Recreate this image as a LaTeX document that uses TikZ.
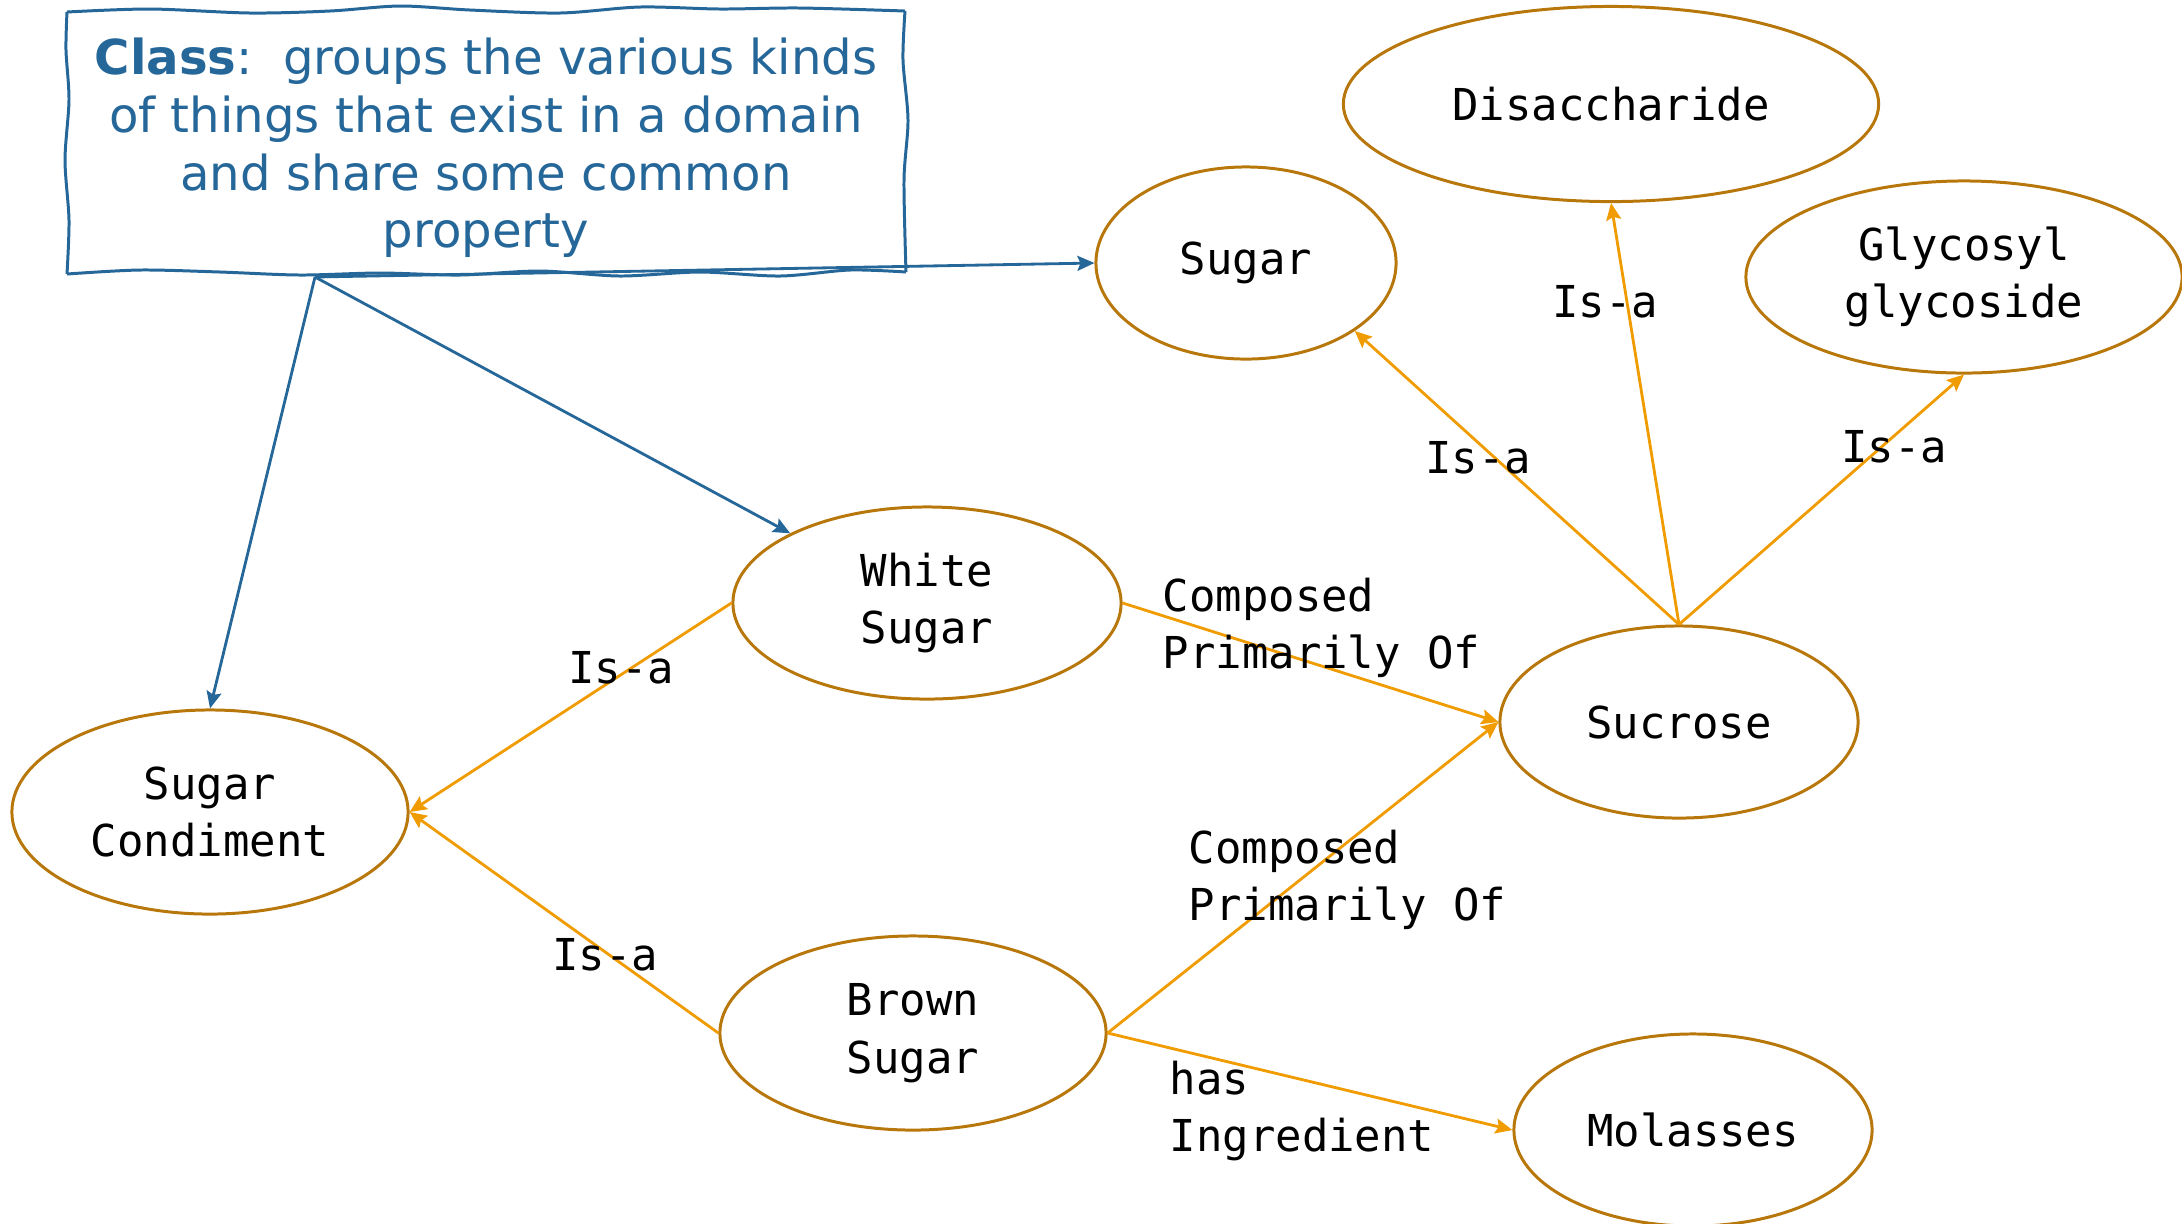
\documentclass[tikz,border=0pt]{standalone}
\usepackage{fontspec}
\setmainfont{DejaVu Sans}
\newfontfamily\monofont{DejaVu Sans Mono}
\usetikzlibrary{arrows.meta,shapes.geometric}
\definecolor{noteblue}{RGB}{38,103,153}
\definecolor{edgeorange}{RGB}{240,155,0}
\definecolor{ringbrown}{RGB}{184,119,10}
\begin{document}
\begin{tikzpicture}[x=0.01cm,y=-0.01cm,
  concept/.style={ellipse, draw=ringbrown, line width=0.85pt, inner sep=0pt,
    align=center, font=\monofont\fontsize{12.5}{16.4}\selectfont},
  reltag/.style={inner sep=0pt, font=\monofont\fontsize{12.5}{16.4}\selectfont},
  rel/.style={draw=edgeorange, line width=0.8pt,
    -{Stealth[length=0.17cm,width=0.15cm,inset=0.03cm]}},
  classlink/.style={draw=noteblue, line width=0.8pt,
    -{Stealth[length=0.17cm,width=0.15cm,inset=0.03cm]}},
  sketch/.style={draw=noteblue, line width=0.85pt}]
\useasboundingbox (0,0) rectangle (2182,1223);
\clip (0,0) rectangle (2182,1223);

% hand-drawn note box
\draw[sketch] plot[smooth] coordinates {(67,12) (150,9) (250,13) (330,11) (400,6) (470,10) (560,13) (640,7) (720,9) (800,8) (905,11)};
\draw[sketch] plot[smooth] coordinates {(905,11) (903,60) (908,120) (904,180) (906,272)};
\draw[sketch] plot[smooth] coordinates {(906,272) (850,270) (780,276) (700,272) (620,276) (540,271) (460,275) (380,273) (300,275) (220,272) (140,270) (67,274)};
\draw[sketch] plot[smooth] coordinates {(67,274) (69,220) (65,160) (69,100) (66,50) (67,12)};
\node[text=noteblue, align=center, inner sep=0pt,
      font=\fontsize{13.7}{16.4}\selectfont] (note) at (486,148)
  {\textbf{Class}:\ \ groups the various kinds\\of things that exist in a domain\\and share some common\\property};
\coordinate (hub) at (315,277);

% concepts
\node[concept, minimum width=5.35cm, minimum height=1.95cm] (dis) at (1611,104) {Disaccharide};
\node[concept, minimum width=3.0cm, minimum height=1.92cm] (sugar) at (1246,263) {Sugar};
\node[concept, minimum width=4.36cm, minimum height=1.92cm] (gly) at (1964,277) {Glycosyl\\glycoside};
\node[concept, minimum width=3.88cm, minimum height=1.92cm] (ws) at (927,603) {White\\Sugar};
\node[concept, minimum width=3.58cm, minimum height=1.92cm] (suc) at (1679,722) {Sucrose};
\node[concept, minimum width=3.96cm, minimum height=2.04cm] (cond) at (210,812) {Sugar\\Condiment};
\node[concept, minimum width=3.86cm, minimum height=1.94cm] (bs) at (913,1033) {Brown\\Sugar};
\node[concept, minimum width=3.58cm, minimum height=1.92cm] (mol) at (1693,1130) {Molasses};

% class links
\draw[classlink] (hub) -- (cond.north);
\draw[classlink] (hub) -- (ws.153);
\draw[classlink] (hub) -- (sugar.west);

% relations
\draw[rel] (ws.west) -- (cond.east);
\draw[rel] (bs.west) -- (cond.east);
\draw[rel] (ws.east) -- (suc.west);
\draw[rel] (bs.east) -- (suc.west);
\draw[rel] (bs.east) -- (mol.west);
\draw[rel] (suc.north) -- (sugar.-32);
\draw[rel] (suc.north) -- (dis.south);
\draw[rel] (suc.north) -- (gly.south);

% relation labels
\node[reltag] (t1) at (621,668) {Is-a};
\node[reltag] (t2) at (605,955) {Is-a};
\node[reltag, anchor=west, align=left] (t3) at (1162,628) {Composed\\Primarily Of};
\node[reltag, anchor=west, align=left] (t4) at (1188,880) {Composed\\Primarily Of};
\node[reltag, anchor=west, align=left] (t5) at (1169,1111) {has\\Ingredient};
\node[reltag] (t6) at (1478,458) {Is-a};
\node[reltag] (t7) at (1605,302) {Is-a};
\node[reltag] (t8) at (1894,447) {Is-a};
\end{tikzpicture}
\end{document}
